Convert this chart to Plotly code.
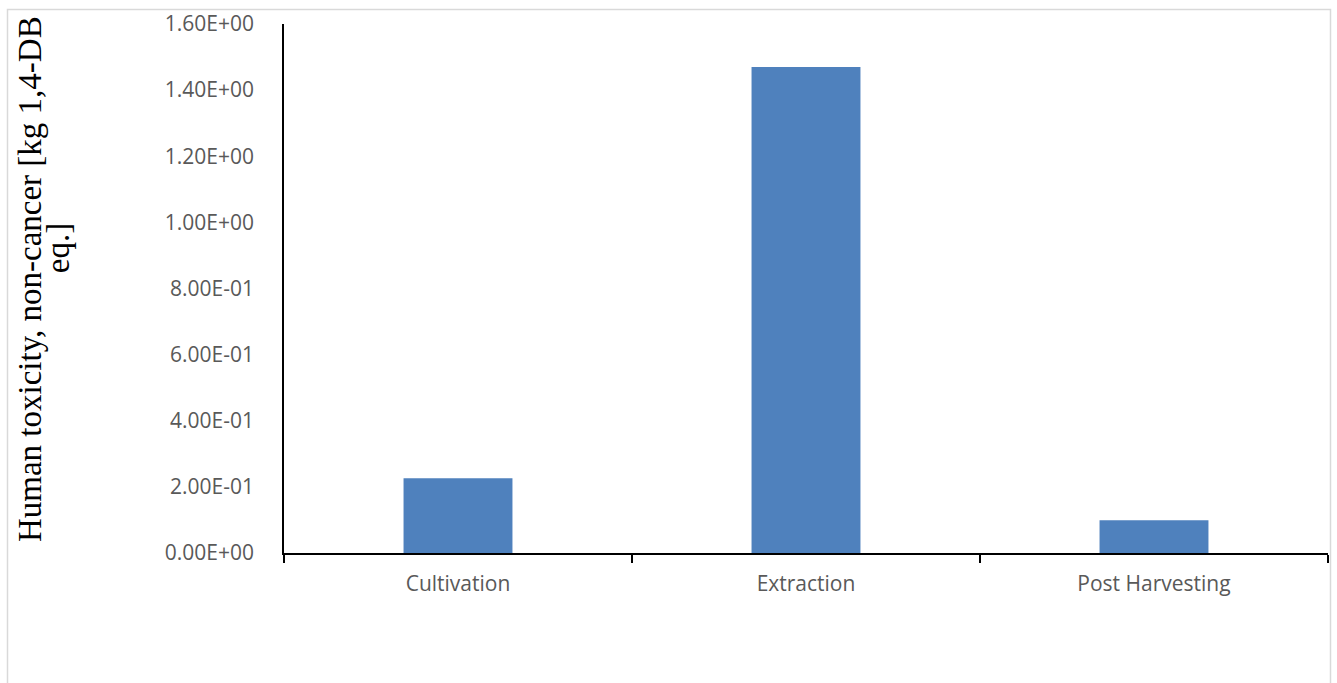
import plotly.graph_objects as go

categories = ["Cultivation", "Extraction", "Post Harvesting"]
values = [0.226, 1.470, 0.099]
y_ticks = [0, 0.2, 0.4, 0.6, 0.8, 1.0, 1.2, 1.4, 1.6]
y_tick_labels = ["0.00E+00", "2.00E-01", "4.00E-01", "6.00E-01", "8.00E-01",
                 "1.00E+00", "1.20E+00", "1.40E+00", "1.60E+00"]
y_title_lines = ["Human toxicity, non-cancer [kg 1,4-DB", "eq.]"]

W, H = 1337, 683
L, R, T, B = 284, 9, 22, 130
pw, ph = W - L - R, H - T - B

fig = go.Figure(go.Bar(
    x=categories, y=values, marker=dict(color="#4F81BD", line=dict(width=0)),
    width=0.313,
))

def px2x(p):
    return (p - L) / pw

def py2y(p):
    return 1 - (p - T) / ph

title_font = dict(family="Liberation Serif, DejaVu Serif, serif", size=33, color="black")

fig.update_layout(
    width=W, height=H,
    margin=dict(l=L, r=R, t=T, b=B),
    paper_bgcolor="white", plot_bgcolor="white",
    showlegend=False,
    font=dict(family="Open Sans, Liberation Sans, sans-serif", color="#595959", size=21),
    xaxis=dict(
        showline=True, linecolor="black", linewidth=1.5,
        ticks="outside", tickson="boundaries", ticklen=8, tickcolor="black", tickwidth=1.5,
        tickfont=dict(size=21, color="#595959"), showgrid=False, zeroline=False,
        ticklabelstandoff=11,
    ),
    yaxis=dict(
        range=[0, 1.6], tickvals=y_ticks, ticktext=y_tick_labels,
        showline=True, linecolor="black", linewidth=1.5,
        ticks="", showgrid=False, zeroline=False,
        tickfont=dict(size=21, color="#595959"), ticklabelstandoff=24,
    ),
    annotations=[
        dict(text=y_title_lines[0], xref="paper", yref="paper",
             x=px2x(30), y=py2y(278), xanchor="center", yanchor="middle",
             textangle=-90, showarrow=False, font=title_font),
        dict(text=y_title_lines[1], xref="paper", yref="paper",
             x=px2x(58), y=py2y(247), xanchor="center", yanchor="middle",
             textangle=-90, showarrow=False, font=title_font),
    ],
    shapes=[dict(
        type="rect", xref="paper", yref="paper",
        x0=px2x(7.5), x1=px2x(1330.5), y0=py2y(700), y1=py2y(7.5),
        line=dict(color="#D9D9D9", width=1.5), fillcolor="rgba(0,0,0,0)", layer="below",
    )],
)

fig.write_html("out.html")
